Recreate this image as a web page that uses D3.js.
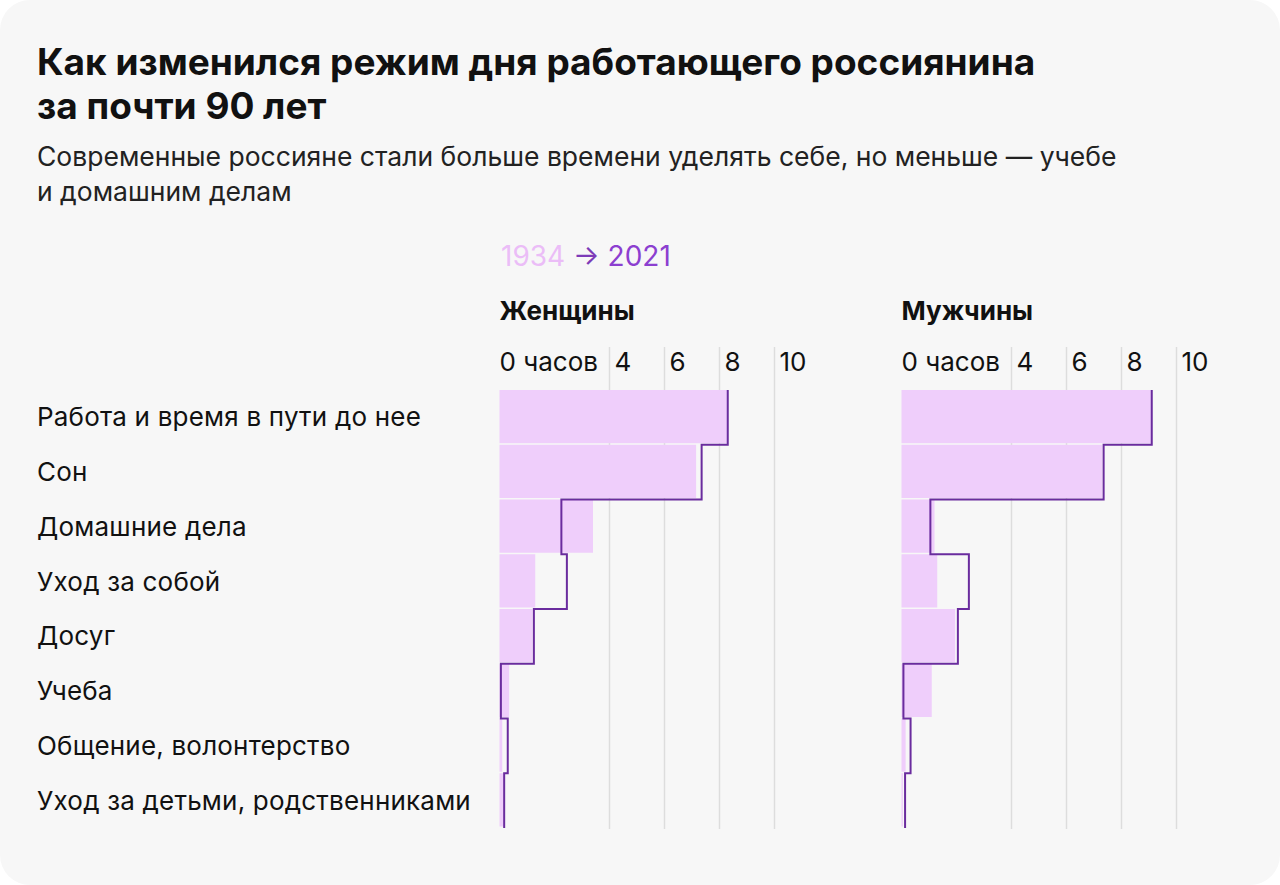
<!DOCTYPE html>
<html lang="ru">
<head>
<meta charset="utf-8">
<script src="https://cdn.jsdelivr.net/npm/d3@7"></script>
<style>
  html, body { margin: 0; padding: 0; background: #ffffff; }
  svg { display: block; font-family: Inter, "Noto Sans", sans-serif; }
</style>
</head>
<body>
<svg id="canvas"></svg>
<script>
const categories = [
  'Работа и время в пути до нее',
  'Сон',
  'Домашние дела',
  'Уход за собой',
  'Досуг',
  'Учеба',
  'Общение, волонтерство',
  'Уход за детьми, родственниками'
];
// hours per day
const women1934 = [8.3, 7.15, 3.4, 1.3, 1.2, 0.35, 0.1, 0.15];
const women2021 = [8.3, 7.35, 2.25, 2.45, 1.25, 0.05, 0.3, 0.17];
const men1934 = [9.1, 7.3, 1.2, 1.3, 1.95, 1.1, 0.15, 0.05];
const men2021 = [9.1, 7.35, 1.05, 2.45, 2.05, 0.07, 0.33, 0.13];
const tickValues = [0, 4, 6, 8, 10];
const tickLabels = ['0 часов', '4', '6', '8', '10'];

const width = 1280;
const height = 885;
const svg = d3.select('#canvas').attr('width', width).attr('height', height);

svg.append('rect')
  .attr('width', width).attr('height', height)
  .attr('rx', 30).attr('fill', '#f7f7f7');

// titles
const title = svg.append('text')
  .attr('x', 37).attr('y', 75)
  .attr('font-size', 37).attr('font-weight', 700).attr('fill', '#111');
title.append('tspan').attr('x', 37).text('Как изменился режим дня работающего россиянина');
title.append('tspan').attr('x', 37).attr('dy', 44).text('за почти 90 лет');

const sub = svg.append('text')
  .attr('x', 37).attr('y', 166)
  .attr('font-size', 26.5).attr('fill', '#222');
sub.append('tspan').attr('x', 37).text('Современные россияне стали больше времени уделять себе, но меньше — учебе');
sub.append('tspan').attr('x', 37).attr('dy', 35).text('и домашним делам');

// legend
const legend = svg.append('text')
  .attr('x', 501).attr('y', 266).attr('font-size', 28);
legend.append('tspan').attr('fill', '#ebbdf7').text('1934 ');
legend.append('tspan').attr('fill', '#7d3bb8').text('→ ');
legend.append('tspan').attr('fill', '#8c3fd0').text('2021');

// rows
const y = d3.scaleBand()
  .domain(categories)
  .range([390, 828])
  .paddingInner(0);

svg.append('g')
  .selectAll('text')
  .data(categories)
  .join('text')
  .attr('x', 37)
  .attr('y', d => y(d) + y.bandwidth() / 2 + 9)
  .attr('font-size', 26)
  .attr('letter-spacing', 0.2)
  .attr('fill', '#111')
  .text(d => d);

const panels = [
  { name: 'Женщины', x0: 499.5, before: women1934, after: women2021 },
  { name: 'Мужчины', x0: 901.5, before: men1934, after: men2021 }
];

panels.forEach(p => {
  const x = d3.scaleLinear().domain([0, 10]).range([p.x0, p.x0 + 275]);
  const g = svg.append('g');

  g.append('text')
    .attr('x', p.x0).attr('y', 320)
    .attr('font-size', 26).attr('font-weight', 700).attr('fill', '#111')
    .text(p.name);

  // grid lines and tick labels
  g.selectAll('line.grid')
    .data(tickValues.filter(d => d > 0))
    .join('line')
    .attr('class', 'grid')
    .attr('x1', d => x(d)).attr('x2', d => x(d))
    .attr('y1', 347).attr('y2', 829)
    .attr('stroke', '#dddddd').attr('stroke-width', 1.5);

  g.selectAll('text.tick')
    .data(tickValues)
    .join('text')
    .attr('class', 'tick')
    .attr('x', d => d === 0 ? x(d) : x(d) + 5)
    .attr('y', 371)
    .attr('font-size', 26).attr('fill', '#111')
    .text((d, i) => tickLabels[i]);

  // 1934 bars
  g.selectAll('rect.bar')
    .data(categories)
    .join('rect')
    .attr('class', 'bar')
    .attr('x', x(0))
    .attr('y', d => y(d))
    .attr('width', (d, i) => x(p.before[i]) - x(0))
    .attr('height', y.bandwidth() - 1.5)
    .attr('fill', '#efcefb');

  // 2021 step outline
  const pts = [];
  categories.forEach((c, i) => {
    pts.push([x(p.after[i]), y(c)]);
    pts.push([x(p.after[i]), y(c) + y.bandwidth()]);
  });
  g.append('path')
    .attr('d', d3.line()(pts))
    .attr('fill', 'none')
    .attr('stroke', '#6a2c9e')
    .attr('stroke-width', 2);
});
</script>
</body>
</html>
